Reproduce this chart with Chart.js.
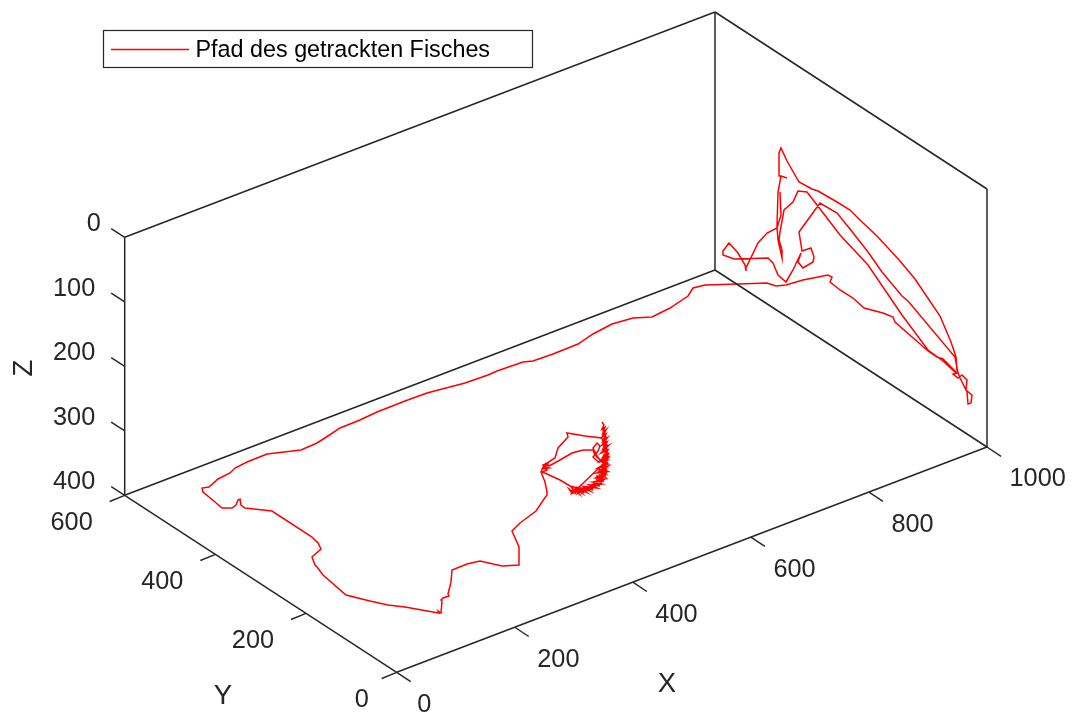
<!DOCTYPE html>
<html>
<head>
<meta charset="utf-8">
<title>Pfad des getrackten Fisches</title>
<script src="https://cdn.jsdelivr.net/npm/chart.js@4"></script>
<style>
  html, body { margin: 0; padding: 0; background: #fff; }
  canvas { display: block; }
</style>
</head>
<body>
<canvas id="chart" width="1075" height="715"></canvas>
<script>
  // axis values
  const xTicks = [0, 200, 400, 600, 800, 1000];
  const yTicks = [0, 200, 400, 600];
  const zTicks = [0, 100, 200, 300, 400];

  // the fish path in view-plane units (one 3D path seen from one angle)
  const columnDown = [
    [602, 422], [604, 425], [602, 429], [605, 427], [603, 433], [606, 430], [602, 437], [606, 434], [603, 441],
    [607, 438], [602, 445], [607, 442], [603, 449], [608, 446], [601, 453], [608, 450], [603, 457], [609, 454],
    [600, 461], [608, 458], [602, 465], [608, 462], [598, 468], [608, 466], [600, 471], [607, 469], [597, 473],
    [607, 472], [599, 476], [606, 475], [596, 478], [605, 479], [597, 481], [604, 481], [593, 482], [602, 484],
    [594, 485], [600, 486], [590, 485], [597, 488], [587, 487], [593, 490], [584, 487], [590, 491], [581, 488],
    [586, 492], [578, 488], [582, 493], [575, 488], [579, 494], [572, 488], [575, 493], [569, 489], [571, 492],
  ];
  const arcFill = [
    [574, 490], [572, 493], [577, 491], [576, 489], [581, 492], [580, 489], [585, 491], [584, 489], [589, 490],
    [588, 487], [592, 488], [591, 485], [595, 486], [594, 483], [598, 484], [597, 480], [601, 482], [599, 478],
    [603, 480], [600, 475], [605, 477], [601, 473], [606, 474], [601, 470], [607, 471], [602, 468], [607, 467],
    [603, 465], [608, 464], [602, 462], [608, 460], [603, 459], [609, 457], [604, 455], [608, 453], [604, 451],
    [607, 449], [604, 447], [607, 445], [604, 443], [606, 441], [604, 439], [606, 437], [604, 435], [605, 432],
    [603, 430], [605, 437], [603, 444], [606, 452], [604, 460], [606, 468], [603, 476], [599, 470], [601, 466],
  ];
  const columnBack = [
    [576, 490], [573, 493], [580, 490], [578, 493], [586, 490], [584, 492], [591, 488], [589, 490], [596, 485],
    [594, 482], [600, 481], [597, 476], [604, 477], [600, 472], [606, 471], [601, 467], [607, 464], [602, 461],
    [606, 458], [599, 462],
  ];
  const figureEight = [[596, 460], [593, 457], [598, 451], [600, 446], [597, 443], [593, 448], [597, 456], [600, 460], [595, 455], [593, 450]];
  const middleLoop = [[583, 450], [572, 453], [560, 460], [549, 466]];
  const leftCluster = [
    [545, 463], [548, 465], [544, 467], [549, 468], [543, 469], [548, 463], [543, 465], [547, 470], [542, 472],
    [547, 474],
  ];
  const lowerLoop = [
    [560, 480], [570, 486], [580, 489], [590, 486], [599, 480], [605, 470], [606, 456], [604, 446], [602, 438],
  ];
  const upperLoop = [
    [585, 436], [567, 433], [568, 437], [558, 448], [555, 458], [547, 463], [543, 467], [541, 472], [545, 482],
    [547, 492], [547, 495],
  ];
  const floorPath = [
    [544, 499], [536, 511], [520, 523], [512, 531], [519, 547], [519, 565], [502, 566], [480, 561], [467, 564],
    [452, 570], [451, 582], [448, 594], [449, 596], [443, 598], [441, 600], [442, 601], [441, 613], [438, 611],
    [439, 613], [433, 612], [405, 607], [388, 605], [370, 601], [346, 595], [323, 575], [317, 567], [315, 565],
    [312, 557], [321, 549], [318, 543], [312, 537], [272, 511], [245, 508], [241, 505], [240, 499], [238, 500],
    [236, 505], [232, 508], [222, 508], [215, 502], [203, 492], [202, 488], [209, 487],
  ];
  const backPath = [
    [218, 479], [230, 473], [235, 468], [247, 462], [267, 454], [301, 450], [317, 443], [328, 436], [340, 428],
    [360, 420], [377, 412], [405, 401], [427, 393], [465, 383], [488, 375], [497, 371], [523, 362], [533, 361],
    [553, 354], [578, 344], [593, 334], [612, 324], [633, 318], [652, 317], [670, 308], [688, 296], [693, 288],
    [705, 285], [738, 284], [767, 283], [776, 286], [786, 285], [803, 280], [828, 275], [832, 277], [830, 282],
    [840, 290], [853, 298], [864, 308], [883, 313], [893, 317], [895, 322], [928, 351], [937, 357], [943, 359],
    [953, 369], [957, 373], [953, 374], [958, 378], [962, 375], [967, 380], [966, 390], [972, 395], [971, 403],
    [968, 404], [967, 392], [960, 378], [957, 370],
  ];
  const wallPath = [
    [956, 357], [951, 342], [940, 316], [915, 279], [900, 261], [877, 236], [860, 220], [850, 210], [837, 202],
    [818, 191], [812, 189], [799, 182], [787, 161], [781, 148], [779, 153], [779, 176], [781, 176], [787, 178],
    [781, 176], [778, 192], [777, 227], [778, 240], [782, 258], [782, 250], [779, 240], [780, 232], [784, 210],
    [793, 202], [798, 191], [807, 192], [840, 235], [868, 265], [902, 315], [928, 350], [943, 361], [955, 372],
    [958, 373], [955, 357], [908, 301], [902, 296], [882, 272], [868, 252], [850, 229], [837, 213], [820, 203],
    [799, 232], [802, 251], [811, 248], [814, 257], [813, 262], [803, 268], [798, 262], [801, 253], [793, 270],
    [786, 282], [778, 275], [773, 263], [768, 258], [734, 259], [723, 255], [723, 251], [729, 243], [738, 253],
    [745, 265], [746, 271], [746, 268], [758, 243], [767, 233], [777, 228], [781, 215], [780, 192],
  ];

  const legendLabel = 'Pfad des getrackten Fisches';

  const INK = '#262626';
  const RED = '#ff0000';
  const TICK_FONT = '25.3px "Liberation Sans", Arial, sans-serif';
  const LABEL_FONT = '27.5px "Liberation Sans", Arial, sans-serif';
  const LEGEND_FONT = '23.35px "Liberation Sans", Arial, sans-serif';

  // view of the box: where the origin lands and how far each axis reaches
  const ORIGIN = { x: 396.7, y: 672.3 };  // X=0, Y=0, Z=400
  const X_SPAN = { x: 590.3, y: -225.3 }; // X 0..1000
  const Y_SPAN = { x: -272, y: -177 };    // Y 0..600
  const Z_SPAN = { x: 0, y: -258 };       // Z 400..0

  function project(x, y, z) {
    const a = x / 1000, b = y / 600, c = (400 - z) / 400;
    return {
      x: ORIGIN.x + a * X_SPAN.x + b * Y_SPAN.x + c * Z_SPAN.x,
      y: ORIGIN.y + a * X_SPAN.y + b * Y_SPAN.y + c * Z_SPAN.y,
    };
  }

  function segment(points, width, color) {
    return {
      data: points,
      showLine: true,
      borderColor: color,
      borderWidth: width,
      pointRadius: 0,
      tension: 0,
      clip: false,
    };
  }

  function boxEdge(from, to) {
    return segment([project(...from), project(...to)], 1.5, INK);
  }

  function tickMark(value, dx, dy) {
    const p = project(...value);
    return segment([p, { x: p.x + dx, y: p.y + dy }], 1.4, INK);
  }

  const boxEdges = [
    [[0, 600, 0], [1000, 600, 0]], [[1000, 600, 0], [1000, 0, 0]], [[0, 600, 0], [0, 600, 400]],
    [[0, 600, 400], [0, 0, 400]], [[0, 0, 400], [1000, 0, 400]], [[1000, 600, 400], [1000, 600, 0]],
    [[1000, 0, 400], [1000, 0, 0]], [[0, 600, 400], [1000, 600, 400]], [[1000, 600, 400], [1000, 0, 400]],
  ].map((edge) => boxEdge(edge[0], edge[1]));

  const ticks = [
    ...xTicks.map((v) => tickMark([v, 0, 400], 14, 9.3)),
    ...yTicks.map((v) => tickMark([0, v, 400], -15, 6.2)),
    ...zTicks.map((v) => tickMark([0, 600, v], -13.5, -8.7)),
  ];

  const pathPoints = [
    ...columnDown, ...arcFill, ...columnBack, ...figureEight, ...middleLoop, ...leftCluster, ...lowerLoop, ...upperLoop,
    ...floorPath, ...backPath, ...wallPath,
  ].map((p) => ({ x: p[0], y: p[1] }));

  const textItems = [
    ...xTicks.map((v) => {
      const p = project(v, 0, 400);
      return { text: String(v), x: p.x + (v === 0 ? 20.5 : 22.5), y: p.y + 32.5, font: TICK_FONT, align: 'left' };
    }),
    ...yTicks.map((v) => {
      const p = project(0, v, 400);
      return { text: String(v), x: p.x - (v === 0 ? 28 : 32), y: p.y + 27.5, font: TICK_FONT, align: 'right' };
    }),
    ...zTicks.map((v) => {
      const p = project(0, 600, v);
      return { text: String(v), x: p.x - (v === 0 ? 24 : 29.5), y: p.y - 13, font: TICK_FONT, align: 'right' };
    }),
    { text: 'X', x: 667, y: 684, font: LABEL_FONT, align: 'center' },
    { text: 'Y', x: 223, y: 696, font: LABEL_FONT, align: 'center' },
  ];

  const annotations = {
    id: 'annotations',
    afterDatasetsDraw(chart) {
      const { ctx, scales } = chart;
      ctx.save();
      ctx.fillStyle = INK;
      ctx.textBaseline = 'middle';
      textItems.forEach((item) => {
        ctx.font = item.font;
        ctx.textAlign = item.align;
        ctx.fillText(item.text, scales.x.getPixelForValue(item.x), scales.y.getPixelForValue(item.y));
      });

      // rotated Z label
      ctx.save();
      ctx.translate(scales.x.getPixelForValue(24), scales.y.getPixelForValue(368));
      ctx.rotate(-Math.PI / 2);
      ctx.font = LABEL_FONT;
      ctx.textAlign = 'center';
      ctx.fillText('Z', 0, 0);
      ctx.restore();

      // legend box
      ctx.fillStyle = '#fff';
      ctx.strokeStyle = INK;
      ctx.lineWidth = 1.2;
      ctx.fillRect(103.5, 30.5, 429, 37);
      ctx.strokeRect(103.5, 30.5, 429, 37);
      ctx.strokeStyle = RED;
      ctx.lineWidth = 1.3;
      ctx.beginPath();
      ctx.moveTo(111, 49.5);
      ctx.lineTo(189, 49.5);
      ctx.stroke();
      ctx.fillStyle = '#000';
      ctx.textAlign = 'left';
      ctx.font = LEGEND_FONT;
      ctx.fillText(legendLabel, 195.5, 50.5);
      ctx.restore();
    },
  };

  new Chart(document.getElementById('chart'), {
    type: 'scatter',
    data: {
      datasets: [...boxEdges, ...ticks, segment(pathPoints, 1.5, RED)],
    },
    options: {
      responsive: false,
      animation: false,
      layout: { padding: 0 },
      scales: {
        x: { type: 'linear', display: false, min: 0, max: 1075 },
        y: { type: 'linear', display: false, min: 0, max: 715, reverse: true },
      },
      plugins: {
        legend: { display: false },
        tooltip: { enabled: false },
      },
    },
    plugins: [annotations],
  });
</script>
</body>
</html>
